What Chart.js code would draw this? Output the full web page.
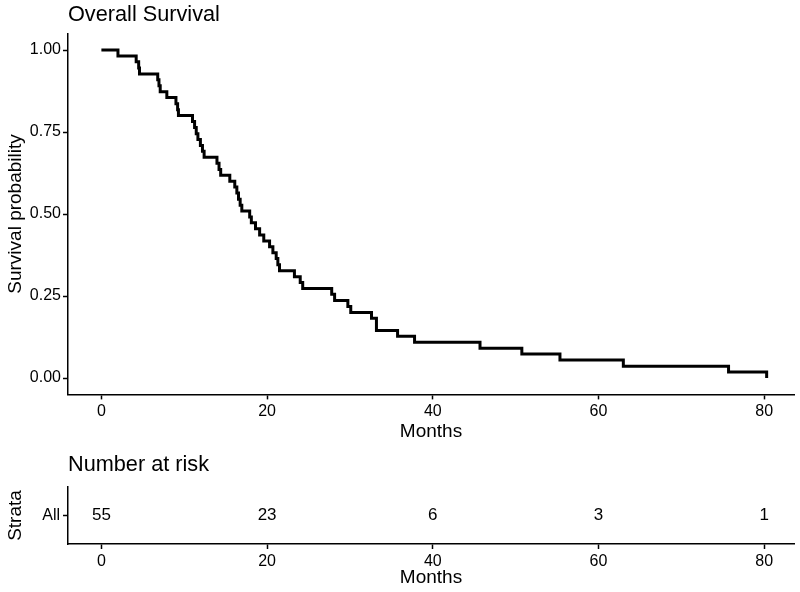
<!DOCTYPE html>
<html>
<head>
<meta charset="utf-8">
<script src="https://cdn.jsdelivr.net/npm/chart.js@4.4.0/dist/chart.umd.min.js"></script>
<style>
  html, body { margin: 0; padding: 0; background: #fff; }
  #wrap { position: relative; width: 800px; height: 592px; }
  #survChart { position: absolute; left: 0; top: 0; }
  #riskChart { position: absolute; left: 0; top: 445px; }
</style>
</head>
<body>
<div id="wrap">
  <canvas id="survChart" width="800" height="445"></canvas>
  <canvas id="riskChart" width="800" height="147"></canvas>
</div>
<script>
// Kaplan-Meier steps (55 patients)
const months = [0, 2.0, 4.2, 4.5, 4.6, 6.8, 6.95, 7.1, 7.9, 9.0, 9.2, 9.3,
  11.0, 11.25, 11.45, 11.65, 11.95, 12.2, 12.4, 13.95, 14.2, 14.4, 15.5,
  16.1, 16.35, 16.55, 16.75, 16.95, 17.9, 18.1, 18.6, 19.1, 19.6,
  20.3, 20.7, 21.1, 21.3, 21.5, 23.3, 24.0, 24.3, 27.8, 28.15, 29.75, 30.1,
  32.6, 33.2, 35.75, 37.8, 45.7, 50.75, 55.35, 63.0, 75.7, 80.3];
const survival = [1.000, 0.982, 0.964, 0.945, 0.927, 0.909, 0.891, 0.873, 0.855, 0.836, 0.818, 0.800,
  0.782, 0.764, 0.745, 0.727, 0.709, 0.691, 0.673, 0.655, 0.636, 0.618, 0.600,
  0.582, 0.564, 0.545, 0.527, 0.509, 0.491, 0.473, 0.455, 0.436, 0.418,
  0.400, 0.382, 0.364, 0.345, 0.327, 0.309, 0.291, 0.273, 0.255, 0.236, 0.218, 0.200,
  0.182, 0.145, 0.127, 0.109, 0.091, 0.073, 0.055, 0.036, 0.018, 0.000];

const xTicks = [0, 20, 40, 60, 80];
const yTicks = [0, 0.25, 0.5, 0.75, 1];
const yTickLabels = ["0.00", "0.25", "0.50", "0.75", "1.00"];

// number at risk table
const riskStrata = ["All"];
const riskTimes = [0, 20, 40, 60, 80];
const riskCounts = [55, 23, 6, 3, 1];

const FONT = "'Liberation Sans', Arial, Helvetica, sans-serif";

// title drawn flush with the left edge of the panel
const panelTitle = {
  id: "panelTitle",
  afterDraw(chart, args, opts) {
    const ctx = chart.ctx;
    ctx.save();
    ctx.font = "21.7px " + FONT;
    ctx.fillStyle = "#000";
    ctx.textBaseline = "middle";
    ctx.textAlign = "left";
    ctx.fillText(opts.text, chart.chartArea.left, opts.y);
    ctx.restore();
  }
};

const riskNumbers = {
  id: "riskNumbers",
  afterDatasetsDraw(chart) {
    const ctx = chart.ctx;
    const meta = chart.getDatasetMeta(0);
    ctx.save();
    ctx.font = "17px " + FONT;
    ctx.fillStyle = "#000";
    ctx.textAlign = "center";
    ctx.textBaseline = "middle";
    meta.data.forEach(function (pt, i) {
      ctx.fillText(String(riskCounts[i]), pt.x, pt.y);
    });
    ctx.restore();
  }
};

function xAxis(h, padBottom) {
  return {
    type: "linear",
    min: -4.03,
    max: 83.6,
    afterBuildTicks: s => { s.ticks = xTicks.map(v => ({ value: v })); },
    afterFit: s => { s.height = h; },
    grid: { drawOnChartArea: false, drawTicks: true, tickLength: 5, tickWidth: 1.5, tickColor: "#000" },
    border: { display: true, color: "#000", width: 1.5 },
    ticks: { color: "#000", font: { size: 16, family: FONT }, padding: 3, maxRotation: 0, autoSkip: false },
    title: { display: true, text: "Months", color: "#000", font: { size: 19, family: FONT }, padding: { top: 0, bottom: padBottom } }
  };
}

Chart.defaults.animation = false;

new Chart(document.getElementById("survChart"), {
  type: "line",
  data: {
    datasets: [{
      data: months.map((m, i) => ({ x: m, y: survival[i] })),
      stepped: true,
      borderColor: "#000",
      borderWidth: 3,
      pointRadius: 0,
      fill: false
    }]
  },
  options: {
    responsive: false,
    layout: { padding: { top: 33.6, right: 6, bottom: 0, left: 0 } },
    plugins: {
      legend: { display: false },
      tooltip: { enabled: false },
      panelTitle: { text: "Overall Survival", y: 15 }
    },
    scales: {
      x: xAxis(50.6, 1.5),
      y: {
        type: "linear",
        min: -0.05,
        max: 1.05,
        afterBuildTicks: s => { s.ticks = yTicks.map(v => ({ value: v })); },
        afterFit: s => { s.width = 68; },
        grid: { drawOnChartArea: false, drawTicks: true, tickLength: 5, tickWidth: 1.5, tickColor: "#000" },
        border: { display: true, color: "#000", width: 1.5 },
        ticks: {
          color: "#000",
          font: { size: 16, family: FONT },
          padding: 2,
          callback: v => yTickLabels[yTicks.indexOf(v)]
        },
        title: { display: true, text: "Survival probability", color: "#000", font: { size: 19, family: FONT }, padding: { top: 4, bottom: 0 } }
      }
    }
  },
  plugins: [panelTitle]
});

new Chart(document.getElementById("riskChart"), {
  type: "line",
  data: {
    datasets: [{
      data: riskTimes.map(t => ({ x: t, y: riskStrata[0] })),
      showLine: false,
      pointRadius: 0
    }]
  },
  options: {
    responsive: false,
    layout: { padding: { top: 42, right: 6, bottom: 0, left: 0 } },
    plugins: {
      legend: { display: false },
      tooltip: { enabled: false },
      panelTitle: { text: "Number at risk", y: 20 }
    },
    scales: {
      x: xAxis(48, 3),
      y: {
        type: "category",
        labels: riskStrata,
        offset: true,
        afterFit: s => { s.width = 68; },
        grid: { drawOnChartArea: false, drawTicks: true, tickLength: 5, tickWidth: 1.5, tickColor: "#000" },
        border: { display: true, color: "#000", width: 1.5 },
        ticks: { color: "#000", font: { size: 16, family: FONT }, padding: 3 },
        title: { display: true, text: "Strata", color: "#000", font: { size: 19, family: FONT }, padding: { top: 4, bottom: 0 } }
      }
    }
  },
  plugins: [panelTitle, riskNumbers]
});
</script>
</body>
</html>
